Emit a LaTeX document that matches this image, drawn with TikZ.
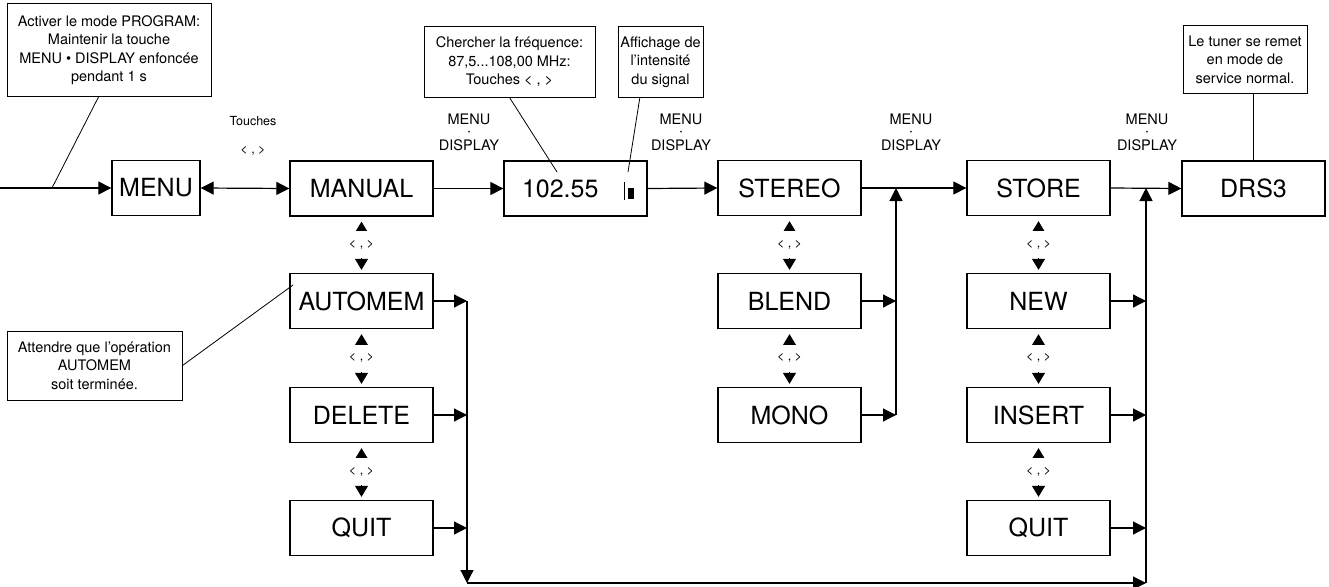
\documentclass[tikz,border=0pt]{standalone}
\usepackage{fontspec}
\setmainfont{TeX Gyre Heros}
\usetikzlibrary{arrows.meta,calc}
\begin{document}
\begin{tikzpicture}[x=1pt,y=-1pt,
  box/.style={draw, line width=1.3pt, minimum width=143pt, minimum height=55pt, inner sep=0pt, font=\fontsize{25}{30}\selectfont},
  callout/.style={draw, line width=1pt, inner sep=0pt, align=center, font=\fontsize{14.5}{18.5}\selectfont},
  pointer/.style={line width=0.8pt},
  conn/.style={line width=1.2pt},
  tri/.style={-{Triangle[length=13pt,width=13pt]}},
  bitri/.style={{Triangle[length=13pt,width=13pt]}-{Triangle[length=13pt,width=13pt]}},
  updown/.style={line width=1pt, {Triangle[length=11pt,width=13pt]}-{Triangle[length=11pt,width=13pt]}, shorten <=5pt, shorten >=3pt},
  keylbl/.style={fill=white, inner sep=0pt, minimum height=27pt, minimum width=30pt, font=\fontsize{12.5}{12.5}\selectfont},
  menulbl/.style={inner sep=0pt, font=\fontsize{14.5}{14.5}\selectfont},
  dotlbl/.style={inner sep=0pt, font=\fontsize{7}{7}\selectfont}
]
\useasboundingbox (0,0) rectangle (1329,586);

% top row
\node[box, minimum width=88pt] (menu) at (156,188) {MENU};
\node[box] (manual) at (361.5,188.5) {MANUAL};
\node[box, inner xsep=18pt, text width=107pt, align=left] (freq) at (575.5,188.5) {102.55};
\node[box] (stereo) at (789.5,188) {STEREO};
\node[box] (store) at (1038.5,188) {STORE};
\node[box] (drs) at (1253.5,188.5) {DRS3};

% signal bar
\draw[line width=0.8pt] (624.5,182) -- (624.5,200);
\fill (628,188) rectangle (634,199);

% left column
\node[box] (automem) at (361.5,301) {AUTOMEM};
\node[box] (delete) at (361.5,415) {DELETE};
\node[box] (quita) at (361.5,528) {QUIT};

% stereo column
\node[box] (blend) at (789.5,301) {BLEND};
\node[box] (mono) at (789.5,415) {MONO};

% store column
\node[box] (new) at (1038.5,301) {NEW};
\node[box] (insert) at (1038.5,415) {INSERT};
\node[box] (quitb) at (1038.5,528) {QUIT};

% bus coordinates
\coordinate (in) at (0,188);
\coordinate (b1t) at (467,301);
\coordinate (b1b) at (467,583);
\coordinate (b2t) at (896,188);
\coordinate (b2b) at (896,415);
\coordinate (b3t) at (1146,188);
\coordinate (b3b) at (1146,583);

% top row connectors
\draw[conn,tri] (in) -- (menu.west);
\draw[conn,bitri] (menu.east) -- (manual.west);
\draw[conn,tri] (manual.east) -- (freq.west);
\draw[conn,tri] (freq.east) -- (stereo.west);
\draw[conn,tri] (stereo.east) -- (store.west);
\draw[conn,tri] (store.east) -- (drs.west);

% up/down key arrows
\draw[updown] (manual.south) -- node[keylbl] (k1) {< , >} (automem.north);
\draw[updown] (automem.south) -- node[keylbl] (k2) {< , >} (delete.north);
\draw[updown] (delete.south) -- node[keylbl] (k3) {< , >} (quita.north);
\draw[updown] (stereo.south) -- node[keylbl] (k4) {< , >} (blend.north);
\draw[updown] (blend.south) -- node[keylbl] (k5) {< , >} (mono.north);
\draw[updown] (store.south) -- node[keylbl] (k6) {< , >} (new.north);
\draw[updown] (new.south) -- node[keylbl] (k7) {< , >} (insert.north);
\draw[updown] (insert.south) -- node[keylbl] (k8) {< , >} (quitb.north);

% buses
\draw[conn,tri] (automem.east) -- (automem.east -| b1t);
\draw[conn,tri] (delete.east) -- (delete.east -| b1t);
\draw[conn,tri] (quita.east) -- (quita.east -| b1t);
\draw[conn,tri] (b1t) -- (b1b);
\draw[conn,tri] (b1b) -- (b3b);
\draw[conn,tri] (b3b) -- (b3t);

\draw[conn,tri] (blend.east) -- (blend.east -| b2t);
\draw[conn,tri] (mono.east) -- (mono.east -| b2t);
\draw[conn,tri] (b2b) -- (b2t);

\draw[conn,tri] (new.east) -- (new.east -| b3t);
\draw[conn,tri] (insert.east) -- (insert.east -| b3t);
\draw[conn,tri] (quitb.east) -- (quitb.east -| b3t);

% labels
\node[align=center, inner sep=0pt, font=\fontsize{12.5}{28}\selectfont] (touches) at (253,136) {Touches\\< , >};
\foreach \x/\n in {469/1, 681/2, 911/3, 1147/4} {
  \node[menulbl] (mu\n) at (\x,119) {MENU};
  \node[dotlbl] (md\n) at (\x,132.5) {•};
  \node[menulbl] (mp\n) at (\x,145) {DISPLAY};
}

% callouts
\node[callout, minimum width=204pt, minimum height=92pt] (c1) at (109,50) {Activer le mode PROGRAM:\\Maintenir la touche\\MENU • DISPLAY enfoncée\\pendant 1 s};
\coordinate (c1tip) at (52,188);
\draw[pointer] ($(c1.south west)!0.45!(c1.south east)$) -- (c1tip);

\node[callout, minimum width=171pt, minimum height=70pt] (c2) at (509.5,62) {Chercher la fréquence:\\87,5...108,00 MHz:\\Touches < , >};
\coordinate (c2tip) at (557,172);
\draw[pointer] (c2.south) -- (c2tip);

\node[callout, minimum width=85pt, minimum height=70pt] (c3) at (660.5,62) {Affichage de\\l'intensité\\du signal};
\coordinate (c3tip) at (628,172);
\draw[pointer] ($(c3.south west)!0.26!(c3.south east)$) -- (c3tip);

\node[callout, minimum width=124pt, minimum height=67pt] (c4) at (1245,59.5) {Le tuner se remet\\en mode de\\service normal.};
\coordinate (c4b) at ($(c4.south west)!0.57!(c4.south east)$);
\draw[pointer] (c4b) -- (c4b |- drs.north);

\node[callout, minimum width=175pt, minimum height=69pt] (c5) at (94.5,365.5) {Attendre que l’opération\\AUTOMEM\\soit terminée.};
\coordinate (c5tip) at (293,285);
\draw[pointer] (c5.east) -- (c5tip);
\end{tikzpicture}
\end{document}
